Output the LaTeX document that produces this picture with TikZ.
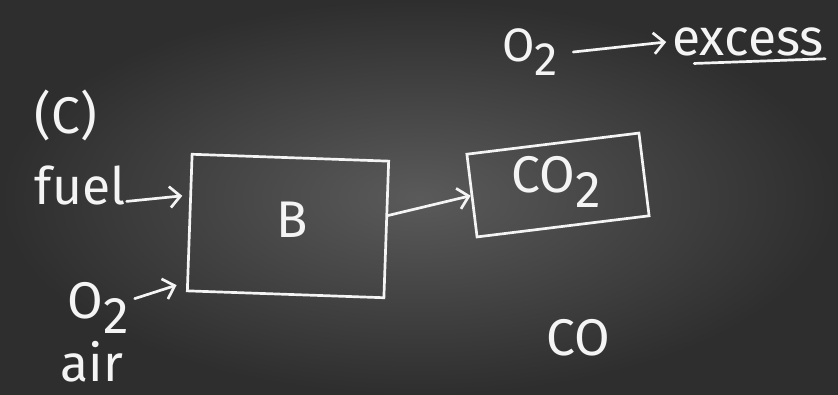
\documentclass[tikz,border=0pt]{standalone}
\usepackage{fontspec}
\setmainfont{Fira Sans}
\usetikzlibrary{arrows.meta,positioning}
\definecolor{board}{HTML}{2E2E2E}
\definecolor{boardmid}{HTML}{5A5A5A}
\definecolor{chalk}{HTML}{F4F4F4}
\tikzset{
  chalkline/.style={chalk, line width=2.3pt, line cap=round, line join=round},
  chalkarrow/.style={chalkline, -{Straight Barb[length=9pt,width=18pt]}},
  chalktext/.style={text=chalk, inner sep=1pt, font=\fontsize{44}{48}\selectfont},
  chalkbox/.style={draw=chalk, line width=2.3pt, inner sep=0pt}
}
\newcommand{\lowtwo}{\raisebox{-0.3em}{2}}
\begin{document}
\begin{tikzpicture}[x=0.03cm, y=-0.03cm]
    % 背景：黑板
    \shade[inner color=boardmid, outer color=board] (0,0) rectangle (838,395);
    \useasboundingbox (0,0) rectangle (838,395);

    % 左边：输入
    \begin{scope}
        \node[chalktext] (label) at (66,115) {(C)};
        \node[chalktext] (fuel) at (80,185) {fuel};
        \node[chalktext] (oxy) at (98,308) {O\lowtwo};
        \node[chalktext] (air) at (92,362) {air};
        % 燃烧器
        \node[chalkbox, minimum width=5.9cm, minimum height=4.1cm, rotate=-2] (burner) at (288,226) {};
        \node[chalktext] (blab) at (292,220) {B};
        \draw[chalkarrow] ([yshift=-14pt]fuel.east) -- ([xshift=-6pt]burner.165);
        \draw[chalkarrow] ([xshift=4pt,yshift=8pt]oxy.east) -- ([xshift=-8pt,yshift=6pt]burner.south west);
    \end{scope}

    % 右边：产物
    \begin{scope}
        \node[chalkbox, minimum width=5.2cm, minimum height=2.5cm, rotate=7] (co2) at (558,185) {};
        \node[chalktext] (co2lab) at (556,182) {CO\lowtwo};
        \node[chalktext] (co) at (578,338) {CO};
        \draw[chalkarrow] (burner.8) -- (co2.west);
    \end{scope}

    % 上方：过量氧气
    \begin{scope}
        \node[chalktext, font=\fontsize{40}{44}\selectfont] (otop) at (530,52) {O\lowtwo};
        \node[chalktext] (excess) at (748,42) {excess};
        \draw[chalkarrow] ([xshift=12pt]otop.east) -- ([xshift=-4pt]excess.west);
        \draw[chalkline] ([xshift=20pt,yshift=-5pt]excess.south west) -- ([yshift=-1pt]excess.south east);
    \end{scope}
\end{tikzpicture}
\end{document}
